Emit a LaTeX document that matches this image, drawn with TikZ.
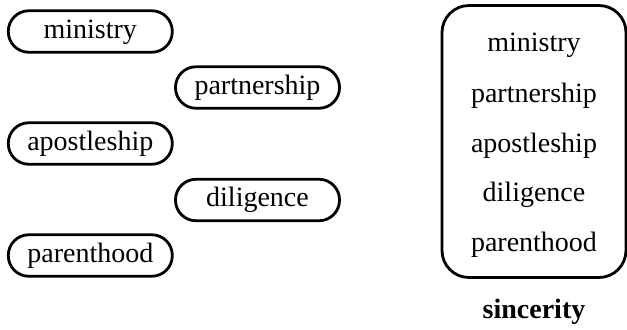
\documentclass[tikz,border=0pt]{standalone}
\usepackage{fontspec}
\setmainfont{Liberation Serif}
\usetikzlibrary{positioning}

\begin{document}
\begin{tikzpicture}
[
	x	= 0.5pt,	% one unit is one pixel of the layout
	y	= -0.5pt,	% rows counted downwards
	pill/.style	= {draw = black, line width = 1.4pt, rounded corners = 10.25pt, minimum width = 82pt, minimum height = 20.75pt, inner sep = 0pt, text height = 10.6pt, text depth = 3.8pt, font = \fontsize{14}{16}\selectfont},
	word/.style	= {inner sep = 0pt, anchor = base, font = \fontsize{14}{16}\selectfont},
]

{
	\useasboundingbox (0,0) rectangle (627,329);

	% pills declaration
	\node (nMinistry) [pill] at (90.3,31.5) {ministry};
           \node (nPartnership) [pill] at (257.5,87.5) {partnership};
	\node (nApostleship) [pill] at (90.3,143.5) {apostleship};
           \node (nDiligence) [pill] at (257.5,200) {diligence};
	\node (nParenthood) [pill] at (90.3,255.5) {parenthood};

	% box declaration
	\node (nBox) [draw = black, line width = 1.4pt, rounded corners = 13.5pt, minimum width = 92pt, minimum height = 136pt] at (534,141.5) {};
	\node (nBoxMinistry) [word] at (534,51) {ministry};
	\node (nBoxPartnership) [word] at (534,102) {partnership};
	\node (nBoxApostleship) [word] at (534,152) {apostleship};
	\node (nBoxDiligence) [word] at (534,201) {diligence};
	\node (nBoxParenthood) [word] at (534,251) {parenthood};

	\node (nSincerity) [word, font = \fontsize{14}{16}\selectfont\bfseries] at (534,318) {sincerity};
}

\end{tikzpicture}
\end{document}
